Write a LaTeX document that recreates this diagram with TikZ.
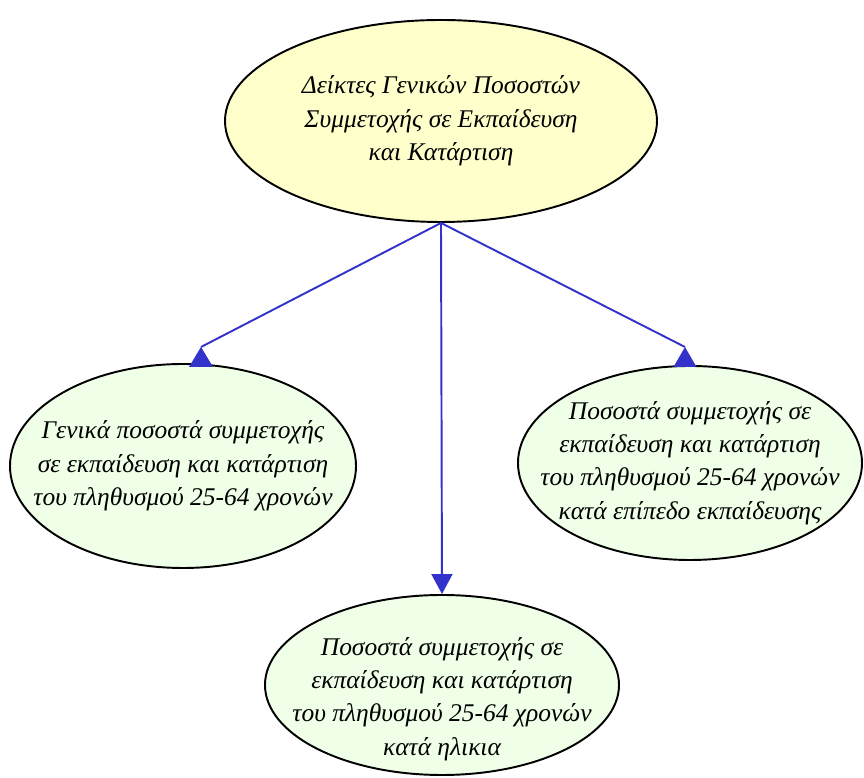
\documentclass[tikz,border=0pt]{standalone}
\usepackage{fontspec}
\setmainfont{Liberation Serif}
\usetikzlibrary{arrows.meta,positioning,shapes.geometric}
\definecolor{rootyellow}{RGB}{255,255,204}
\definecolor{leafgreen}{RGB}{240,255,232}
\definecolor{linkblue}{RGB}{51,51,204}

\begin{document}
\begin{tikzpicture}[
    bubble/.style={ellipse, draw=black, line width=1.1pt, inner sep=0pt},
    txt/.style={align=center, inner sep=0pt, font=\itshape\fontsize{14.5}{19}\selectfont},
    link/.style={draw=linkblue, line width=1.1pt},
    tipfill/.style={fill=linkblue}]
    \useasboundingbox (0,0) rectangle (17.28,15.56);

    \node[bubble, fill=rootyellow, minimum width=8.64cm, minimum height=4.04cm] (root) at (8.82,13.14) {};
    \node[txt] (rootText) at (root) {Δείκτες Γενικών Ποσοστών\\Συμμετοχής σε Εκπαίδευση\\και Κατάρτιση};

    \node[bubble, fill=leafgreen, minimum width=6.92cm, minimum height=4.08cm] (general) at (3.66,6.24) {};
    \node[txt] (generalText) at (general) {Γενικά ποσοστά συμμετοχής\\σε εκπαίδευση και κατάρτιση\\του πληθυσμού 25-64 χρονών};

    \node[bubble, fill=leafgreen, minimum width=6.88cm, minimum height=3.88cm] (level) at (13.80,6.30) {};
    \node[txt] (levelText) at (level) {Ποσοστά συμμετοχής σε\\εκπαίδευση και κατάρτιση\\του πληθυσμού 25-64 χρονών\\κατά επίπεδο εκπαίδευσης};

    \node[bubble, fill=leafgreen, minimum width=7.08cm, minimum height=3.60cm] (age) at (8.84,1.86) {};
    \node[txt] (ageText) at ([yshift=-0.28cm]age.center) {Ποσοστά συμμετοχής σε\\εκπαίδευση και κατάρτιση\\του πληθυσμού 25-64 χρονών\\κατά ηλικια};

    % side markers sit upright on the ellipses
    \coordinate (tipL) at (4.02,8.62);
    \coordinate (tipR) at (13.70,8.62);
    \fill[tipfill] (tipL) -- ++(-0.24,-0.40) -- ++(0.48,0) -- cycle;
    \fill[tipfill] (tipR) -- ++(-0.23,-0.40) -- ++(0.46,0) -- cycle;

    \draw[link] (root.south) -- (tipL);
    \draw[link] (root.south) -- (tipR);
    \draw[link, -{Triangle[width=0.42cm,length=0.40cm]}] (root.south) -- (age.north);
\end{tikzpicture}
\end{document}
